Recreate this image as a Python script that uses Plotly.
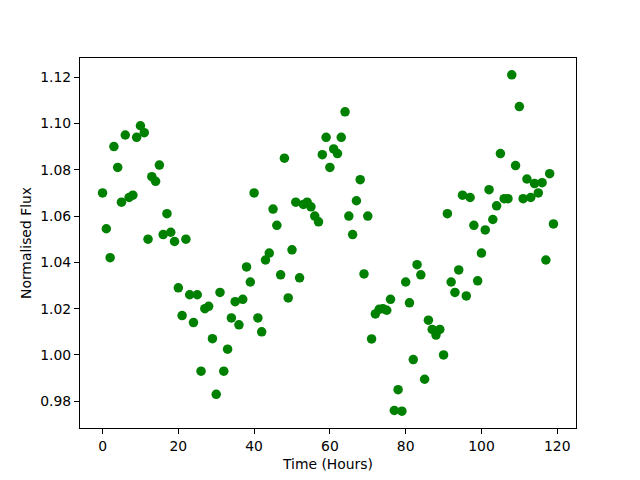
import plotly.graph_objects as go

hours = list(range(120))
flux = [
    1.070, 1.0545, 1.042, 1.090, 1.081, 1.066, 1.095, 1.068, 1.069, 1.094,
    1.099, 1.096, 1.050, 1.077, 1.075, 1.082, 1.052, 1.061, 1.053, 1.049,
    1.029, 1.017, 1.050, 1.026, 1.014, 1.026, 0.993, 1.020, 1.021, 1.007,
    0.983, 1.027, 0.993, 1.0025, 1.016, 1.023, 1.013, 1.024, 1.038, 1.0315,
    1.070, 1.016, 1.010, 1.041, 1.044, 1.063, 1.056, 1.0346, 1.085, 1.0246,
    1.0454, 1.066, 1.0333, 1.065, 1.066, 1.064, 1.060, 1.0575, 1.0865, 1.094,
    1.081, 1.089, 1.087, 1.094, 1.105, 1.060, 1.052, 1.0666, 1.0757, 1.035,
    1.060, 1.0069, 1.0177, 1.0197, 1.020, 1.0193, 1.024, 0.976, 0.985, 0.9757,
    1.0315, 1.0225, 0.998, 1.039, 1.0346, 0.9895, 1.015, 1.011, 1.0086, 1.011,
    1.000, 1.061, 1.0315, 1.027, 1.0367, 1.069, 1.0255, 1.068, 1.056, 1.032,
    1.044, 1.054, 1.0714, 1.0585, 1.0644, 1.087, 1.0675, 1.0675, 1.121, 1.0818,
    1.1073, 1.0675, 1.076, 1.068, 1.074, 1.070, 1.0744, 1.041, 1.0783, 1.0566,
]
x_ticks = [0, 20, 40, 60, 80, 100, 120]
y_ticks = [0.98, 1.00, 1.02, 1.04, 1.06, 1.08, 1.10, 1.12]
y_tick_text = ["0.98", "1.00", "1.02", "1.04", "1.06", "1.08", "1.10", "1.12"]

fig = go.Figure()
fig.add_trace(go.Scatter(
    x=hours, y=flux, mode="markers",
    marker=dict(color="#008000", size=9.5, line=dict(width=0)),
))

font = dict(family="DejaVu Sans", size=13.9, color="black")
axis_common = dict(
    showgrid=False, zeroline=False, showline=True, linecolor="black",
    linewidth=1.1, mirror=True, ticks="outside", ticklen=5, tickwidth=1.1,
    tickcolor="black", tickfont=font,
)
xmin, xmax = min(hours), max(hours)
ymin, ymax = min(flux), max(flux)
xpad = (xmax - xmin) * 0.05
ypad = (ymax - ymin) * 0.05
fig.update_xaxes(range=[xmin - xpad, xmax + xpad], tickvals=x_ticks,
                 title=dict(text="Time (Hours)", font=font, standoff=6),
                 **axis_common)
fig.update_yaxes(range=[ymin - ypad, ymax + ypad], tickvals=y_ticks,
                 ticktext=y_tick_text,
                 title=dict(text="Normalised Flux", font=font, standoff=5),
                 **axis_common)
fig.update_layout(
    width=640, height=480, showlegend=False,
    margin=dict(l=80, r=64, t=58, b=52, pad=0),
    paper_bgcolor="white", plot_bgcolor="white", font=font,
)
fig.write_html("out.html", config={"displayModeBar": False},
               post_script="document.body.style.margin='0';document.body.style.overflow='hidden';")
